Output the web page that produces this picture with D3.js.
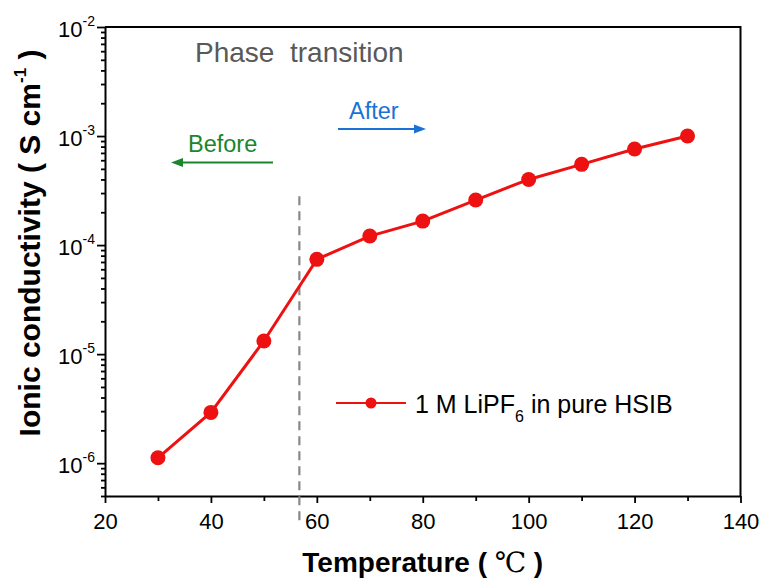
<!DOCTYPE html>
<html>
<head>
<meta charset="utf-8">
<script src="https://cdn.jsdelivr.net/npm/d3@7"></script>
<style>
  body { margin: 0; background: #fff; }
  text { font-family: "Liberation Sans", Arial, sans-serif; }
</style>
</head>
<body>
<div id="plot"></div>
<script>
// data
const temperatures = [30, 40, 50, 60, 70, 80, 90, 100, 110, 120, 130];
const conductivity = [1.12e-6, 2.92e-6, 1.32e-5, 7.4e-5, 1.21e-4, 1.66e-4, 2.59e-4, 4.0e-4, 5.5e-4, 7.6e-4, 1.0e-3];
const xTicks = [20, 40, 60, 80, 100, 120, 140];
const xMinorTicks = [30, 50, 70, 90, 110, 130];
const yTicks = [1e-6, 1e-5, 1e-4, 1e-3, 1e-2];
const yExponents = ['-6', '-5', '-4', '-3', '-2'];
const seriesName = ['1 M LiPF', '6', ' in pure HSIB'];
const transitionTemp = 56.7;

let width = 764,
    height = 578;

let margin = { top: 27, left: 105, right: 23.5, bottom: 82 };

let svg = d3.select('#plot')
  .append('svg')
    .attr('width', width)
    .attr('height', height)
    .style('background', '#FFFFFF');

let xScale = d3.scaleLinear()
  .domain([20, 140])
  .range([margin.left, width - margin.right]);

let yScale = d3.scaleLog()
  .domain([5e-7, 1e-2])
  .range([height - margin.bottom, margin.top]);

// frame (top and right lines only)
svg.append('path')
  .attr('d', `M${xScale(20)},${yScale(1e-2)}H${xScale(140)}V${yScale(5e-7)}`)
  .attr('fill', 'none')
  .attr('stroke', '#000')
  .attr('stroke-width', 2);

// x axis
let xAxis = svg.append('g')
  .attr('transform', `translate(0,${yScale(5e-7)})`)
  .call(d3.axisBottom(xScale).tickValues(xTicks).tickSize(7).tickPadding(4).tickSizeOuter(0));
svg.append('g')
  .attr('transform', `translate(0,${yScale(5e-7)})`)
  .call(d3.axisBottom(xScale).tickValues(xMinorTicks).tickSize(5).tickFormat('').tickSizeOuter(0))
  .call(g => g.select('.domain').remove());

xAxis.selectAll('.tick text')
  .attr('font-size', 22)
  .attr('font-family', '"Liberation Sans", Arial, sans-serif')
  .attr('fill', '#000')
  .attr('dy', null)
  .attr('y', 33);

// y axis
let yMinor = yScale.ticks().filter(v => !yTicks.some(t => Math.abs(t - v) / t < 1e-6));

let yAxis = svg.append('g')
  .attr('transform', `translate(${margin.left},0)`)
  .call(d3.axisLeft(yScale).tickValues(yTicks).tickSize(8).tickPadding(2).tickSizeOuter(0));
svg.append('g')
  .attr('transform', `translate(${margin.left},0)`)
  .call(d3.axisLeft(yScale).tickValues(yMinor).tickSize(4).tickFormat('').tickSizeOuter(0))
  .call(g => g.select('.domain').remove());

yAxis.selectAll('.tick text').each(function(d, i) {
  let t = d3.select(this);
  t.text(null)
    .attr('dy', null)
    .attr('y', 9)
    .attr('x', -10)
    .attr('font-family', '"Liberation Sans", Arial, sans-serif')
    .attr('fill', '#000');
  t.append('tspan').attr('font-size', 22).text('10');
  t.append('tspan').attr('font-size', 14).attr('dy', -11).text(yExponents[i]);
});

svg.selectAll('.domain').attr('stroke-width', 2);
svg.selectAll('.tick line').attr('stroke-width', 1.8);

// axis titles
svg.append('text')
  .attr('x', (xScale(20) + xScale(140)) / 2)
  .attr('y', 572)
  .attr('text-anchor', 'middle')
  .attr('font-size', 28)
  .attr('font-weight', 'bold')
  .text('Temperature ( ')
  .call(t => t.append('tspan').attr('font-weight', 'normal').attr('font-family', '"DejaVu Serif", serif').text('℃'))
  .call(t => t.append('tspan').text(' )'));

svg.append('text')
  .attr('transform', 'translate(40,243) rotate(-90)')
  .attr('text-anchor', 'middle')
  .attr('font-size', 30)
  .attr('font-weight', 'bold')
  .text('Ionic conductivity ( S cm')
  .call(t => t.append('tspan').attr('font-size', 17).attr('dy', -14).text('-1'))
  .call(t => t.append('tspan').attr('dy', 14).text(' )'));

// phase transition line
svg.append('line')
  .attr('x1', xScale(transitionTemp))
  .attr('x2', xScale(transitionTemp))
  .attr('y1', yScale(2.8e-4))
  .attr('y2', yScale(5e-7) + 30)
  .attr('stroke', '#888')
  .attr('stroke-width', 2.2)
  .attr('stroke-dasharray', '9,6');

// annotations
svg.append('text')
  .attr('x', 195)
  .attr('y', 62)
  .attr('font-size', 28)
  .attr('fill', '#595959')
  .text('Phase\u00A0 transition');

svg.append('text')
  .attr('x', 188)
  .attr('y', 152)
  .attr('font-size', 23.5)
  .attr('fill', '#17862c')
  .text('Before');
svg.append('line')
  .attr('x1', 180).attr('x2', 273)
  .attr('y1', 162.5).attr('y2', 162.5)
  .attr('stroke', '#17862c').attr('stroke-width', 2.2);
svg.append('path')
  .attr('d', 'M171,162.5 L183,158 L183,167 Z')
  .attr('fill', '#17862c');

svg.append('text')
  .attr('x', 349)
  .attr('y', 119)
  .attr('font-size', 23.5)
  .attr('fill', '#1a72d6')
  .text('After');
svg.append('line')
  .attr('x1', 338).attr('x2', 416)
  .attr('y1', 129).attr('y2', 129)
  .attr('stroke', '#1a72d6').attr('stroke-width', 2.2);
svg.append('path')
  .attr('d', 'M426,129 L414,124.5 L414,133.5 Z')
  .attr('fill', '#1a72d6');

// data line and markers
let data = temperatures.map((t, i) => ({ t: t, c: conductivity[i] }));

svg.append('path')
  .datum(data)
  .attr('fill', 'none')
  .attr('stroke', '#ee1111')
  .attr('stroke-width', 3)
  .attr('d', d3.line().x(d => xScale(d.t)).y(d => yScale(d.c)));

svg.selectAll('circle.pt')
  .data(data)
  .enter()
  .append('circle')
    .attr('class', 'pt')
    .attr('cx', d => xScale(d.t))
    .attr('cy', d => yScale(d.c))
    .attr('r', 7.5)
    .attr('fill', '#ee1111');

// legend
let legend = svg.append('g').attr('transform', 'translate(336,403)');
legend.append('line')
  .attr('x1', 0).attr('x2', 70)
  .attr('stroke', '#ee1111').attr('stroke-width', 2);
legend.append('circle')
  .attr('cx', 35).attr('r', 5.5)
  .attr('fill', '#ee1111');
legend.append('text')
  .attr('x', 79)
  .attr('y', 10)
  .attr('font-size', 25)
  .attr('fill', '#000')
  .text(seriesName[0])
  .call(t => t.append('tspan').attr('font-size', 16).attr('dy', 9).text(seriesName[1]))
  .call(t => t.append('tspan').attr('dy', -9).text(seriesName[2]));
</script>
</body>
</html>
